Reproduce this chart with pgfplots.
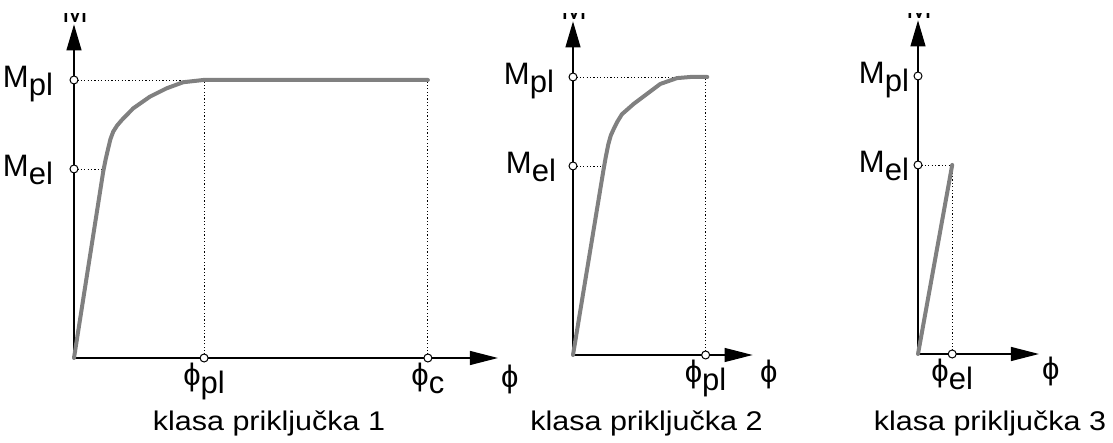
\documentclass[border=0pt]{standalone}
\usepackage{fontspec}
\setmainfont{Liberation Sans}
\newfontfamily\capfont[FakeStretch=1.13]{Liberation Sans}
\usepackage{pgfplots}
\pgfplotsset{compat=1.18}
\usetikzlibrary{arrows.meta}
\definecolor{curvegray}{HTML}{808080}

\newcommand{\sub}[2]{#1\raisebox{-4pt}{#2}}
\newcommand{\lbl}{\fontsize{15.5}{18}\selectfont}
\newcommand{\captext}{\capfont\fontsize{13.5}{16}\selectfont}

\pgfplotsset{
  mphi/.style={
    axis lines=left,
    x=139pt, y=139pt,
    xmin=0, ymin=0, ymax=1.2,
    xtick=\empty, ytick=\empty,
    enlargelimits=false,
    clip=false,
    anchor=origin,
    axis line style={line width=0.6pt},
    x axis line style={-{Triangle[length=14pt,width=7pt]}},
    y axis line style={-{Triangle[length=13pt,width=7.5pt]}},
  },
  curve/.style={no marks, line width=2pt, color=curvegray, line join=round, line cap=round},
  guide/.style={no marks, black, line width=0.45pt, dash pattern=on 0.6pt off 1.1pt},
  knot/.style={only marks, mark=*, mark size=2pt, mark options={fill=white, draw=black, line width=0.5pt}},
}

\begin{document}
\begin{tikzpicture}
\useasboundingbox (0,0) rectangle (556.5pt,221.5pt);
\clip (0,0) rectangle (556.5pt,214.5pt);

% klasa 1
\begin{axis}[mphi, at={(37pt,42.5pt)}, xmax=1.525]
\addplot[guide] coordinates {(0,1) (0.468,1)};
\addplot[guide] coordinates {(0,0.68) (0.106,0.68)};
\addplot[guide] coordinates {(0.468,0) (0.468,1)};
\addplot[guide] coordinates {(1.273,0) (1.273,1)};
\addplot[curve] coordinates {(0,0) (0.105,0.670) (0.114,0.715) (0.123,0.754) (0.131,0.787) (0.141,0.814) (0.155,0.836) (0.172,0.856) (0.213,0.898) (0.273,0.940) (0.333,0.970) (0.393,0.992) (0.465,1) (1.273,1)};
\addplot[knot] coordinates {(0,1) (0,0.68) (0.468,0) (1.273,0)};
\node[anchor=base east, font=\lbl, xshift=-7pt, yshift=-4pt] at (axis cs:0,1) {\sub{M}{pl}};
\node[anchor=base east, font=\lbl, xshift=-7pt, yshift=-4pt] at (axis cs:0,0.68) {\sub{M}{el}};
\node[anchor=base, font=\lbl, yshift=-14pt] at (axis cs:0.468,0) {\sub{ϕ}{pl}};
\node[anchor=base, font=\lbl, yshift=-14pt] at (axis cs:1.273,0) {\sub{ϕ}{c}};
\node[anchor=base, font=\lbl, yshift=-15pt] at (axis cs:1.568,0) {ϕ};
\node[anchor=base, font=\lbl, yshift=1pt, xshift=0.5pt] at (axis cs:0,1.2) {M};
\end{axis}

% klasa 2
\begin{axis}[mphi, at={(286.5pt,44pt)}, xmax=0.646]
\addplot[guide] coordinates {(0,1) (0.477,1)};
\addplot[guide] coordinates {(0,0.68) (0.112,0.68)};
\addplot[guide] coordinates {(0.477,0) (0.477,1)};
\addplot[curve] coordinates {(0,0) (0.109,0.662) (0.118,0.713) (0.127,0.758) (0.136,0.790) (0.146,0.812) (0.160,0.840) (0.176,0.866) (0.218,0.903) (0.266,0.939) (0.314,0.975) (0.374,0.996) (0.422,1) (0.483,1)};
\addplot[knot] coordinates {(0,1) (0,0.68) (0.477,0)};
\node[anchor=base east, font=\lbl, xshift=-6pt, yshift=-4pt] at (axis cs:0,1) {\sub{M}{pl}};
\node[anchor=base east, font=\lbl, xshift=-5pt, yshift=-4pt] at (axis cs:0,0.68) {\sub{M}{el}};
\node[anchor=base, font=\lbl, yshift=-14pt] at (axis cs:0.477,0) {\sub{ϕ}{pl}};
\node[anchor=base, font=\lbl, yshift=-14pt] at (axis cs:0.704,0) {ϕ};
\node[anchor=base, font=\lbl, yshift=1pt, xshift=0.5pt] at (axis cs:0,1.2) {M};
\end{axis}

% klasa 3
\begin{axis}[mphi, at={(459pt,44.5pt)}, xmax=0.435]
\addplot[guide] coordinates {(0,0.68) (0.123,0.68)};
\addplot[guide] coordinates {(0.123,0) (0.123,0.68)};
\addplot[curve] coordinates {(0,0) (0.123,0.68)};
\addplot[knot] coordinates {(0,1) (0,0.68) (0.123,0)};
\node[anchor=base east, font=\lbl, xshift=-1pt, yshift=-4pt] at (axis cs:0,1) {\sub{M}{pl}};
\node[anchor=base east, font=\lbl, xshift=-1pt, yshift=-4pt] at (axis cs:0,0.68) {\sub{M}{el}};
\node[anchor=base, font=\lbl, yshift=-14pt] at (axis cs:0.123,0) {\sub{ϕ}{el}};
\node[anchor=base, font=\lbl, yshift=-13pt] at (axis cs:0.478,0) {ϕ};
\node[anchor=base, font=\lbl, yshift=1pt, xshift=0.5pt] at (axis cs:0,1.2) {M};
\end{axis}

\node[anchor=base, font=\captext] at (134.5pt,6pt) {klasa priključka 1};
\node[anchor=base, font=\captext] at (323.25pt,6pt) {klasa priključka 2};
\node[anchor=base, font=\captext] at (495pt,6pt) {klasa priključka 3};
\end{tikzpicture}
\end{document}
